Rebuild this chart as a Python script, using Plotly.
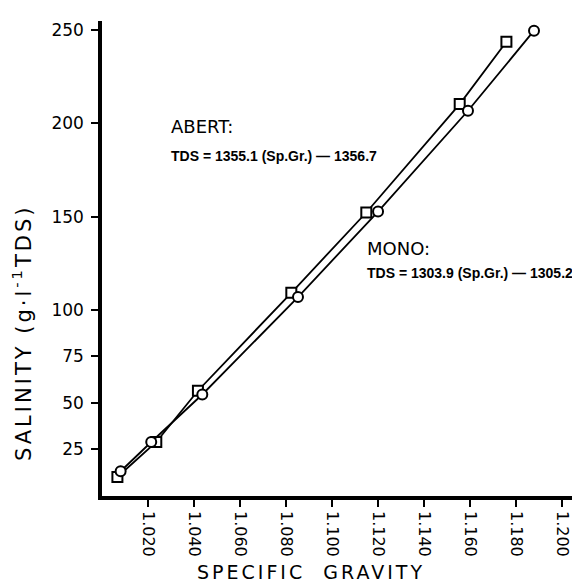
import plotly.graph_objects as go

# Data
abert_sg = [1.0067, 1.0236, 1.0417, 1.0823, 1.1149, 1.1555, 1.1758]
abert_tds = [10.2, 29.0, 56.5, 109.1, 152.2, 210.4, 243.9]
mono_sg = [1.0081, 1.0214, 1.0436, 1.0852, 1.1200, 1.1591, 1.1878]
mono_tds = [13.3, 29.0, 54.5, 106.8, 152.7, 206.8, 249.8]

x_ticks = [1.02, 1.04, 1.06, 1.08, 1.10, 1.12, 1.14, 1.16, 1.18, 1.20]
x_ticktext = ["1.020", "1.040", "1.060", "1.080", "1.100", "1.120", "1.140", "1.160", "1.180", "1.200"]
y_ticks = [25, 50, 75, 100, 150, 200, 250]
y_ticktext = ["25", "50", "75", "100", "150", "200", "250"]

fig = go.Figure()
fig.add_trace(go.Scatter(
    x=abert_sg, y=abert_tds, mode="lines+markers", name="Abert",
    line=dict(color="black", width=1.8),
    marker=dict(symbol="square", size=10, color="white", line=dict(color="black", width=2)),
    cliponaxis=False, showlegend=False))
fig.add_trace(go.Scatter(
    x=mono_sg, y=mono_tds, mode="lines+markers", name="Mono",
    line=dict(color="black", width=1.8),
    marker=dict(symbol="circle", size=10, color="white", line=dict(color="black", width=2)),
    cliponaxis=False, showlegend=False))

fig.update_xaxes(range=[1.0, 1.2104], tickvals=x_ticks, ticktext=x_ticktext, tickangle=90,
                 ticks="outside", ticklen=7, tickwidth=2, tickcolor="black",
                 showline=True, linewidth=3.5, linecolor="black",
                 showgrid=False, zeroline=False,
                 tickfont=dict(family="DejaVu Sans", size=16, color="black"), ticklabelstandoff=1)
fig.update_yaxes(range=[0, 255], tickvals=y_ticks, ticktext=y_ticktext,
                 ticks="outside", ticklen=7, tickwidth=2, tickcolor="black",
                 showline=True, linewidth=3.5, linecolor="black",
                 showgrid=False, zeroline=False,
                 tickfont=dict(family="DejaVu Sans", size=17, color="black"), ticklabelstandoff=4)

W, H = 484, 475
def px(xp):
    return (xp - 94) / W
def py(yp):
    return (488 - yp) / H

annots = [
    dict(text="ABERT:", x=px(161), y=py(118), font=dict(family="DejaVu Sans", size=18, color="black")),
    dict(text="<b>TDS = 1355.1 (Sp.Gr.) — 1356.7</b>", x=px(161), y=py(148),
         font=dict(family="Liberation Sans", size=14, color="black")),
    dict(text="MONO:", x=px(357), y=py(240), font=dict(family="DejaVu Sans", size=18, color="black")),
    dict(text="<b>TDS = 1303.9 (Sp.Gr.) — 1305.2</b>", x=px(357), y=py(265),
         font=dict(family="Liberation Sans", size=14, color="black")),
]
for a in annots:
    fig.add_annotation(xref="paper", yref="paper", xanchor="left", yanchor="middle",
                       showarrow=False, **a)

fig.add_annotation(xref="paper", yref="paper", x=px(303), y=py(564), xanchor="center", yanchor="middle",
                   text='<span style="letter-spacing:3px">SPECIFIC  GRAVITY</span>', showarrow=False,
                   font=dict(family="DejaVu Sans", size=19, color="black"))
fig.add_annotation(xref="paper", yref="paper", x=px(14), y=py(325), xanchor="center", yanchor="middle",
                   text='<span style="letter-spacing:3px">SALINITY (g·l<sup>-1</sup>TDS)</span>',
                   textangle=-90, showarrow=False,
                   font=dict(family="DejaVu Sans", size=21, color="black"))

fig.update_layout(width=580, height=583, margin=dict(l=94, r=2, t=13, b=95),
                  paper_bgcolor="white", plot_bgcolor="white")
fig.write_html("out.html")
